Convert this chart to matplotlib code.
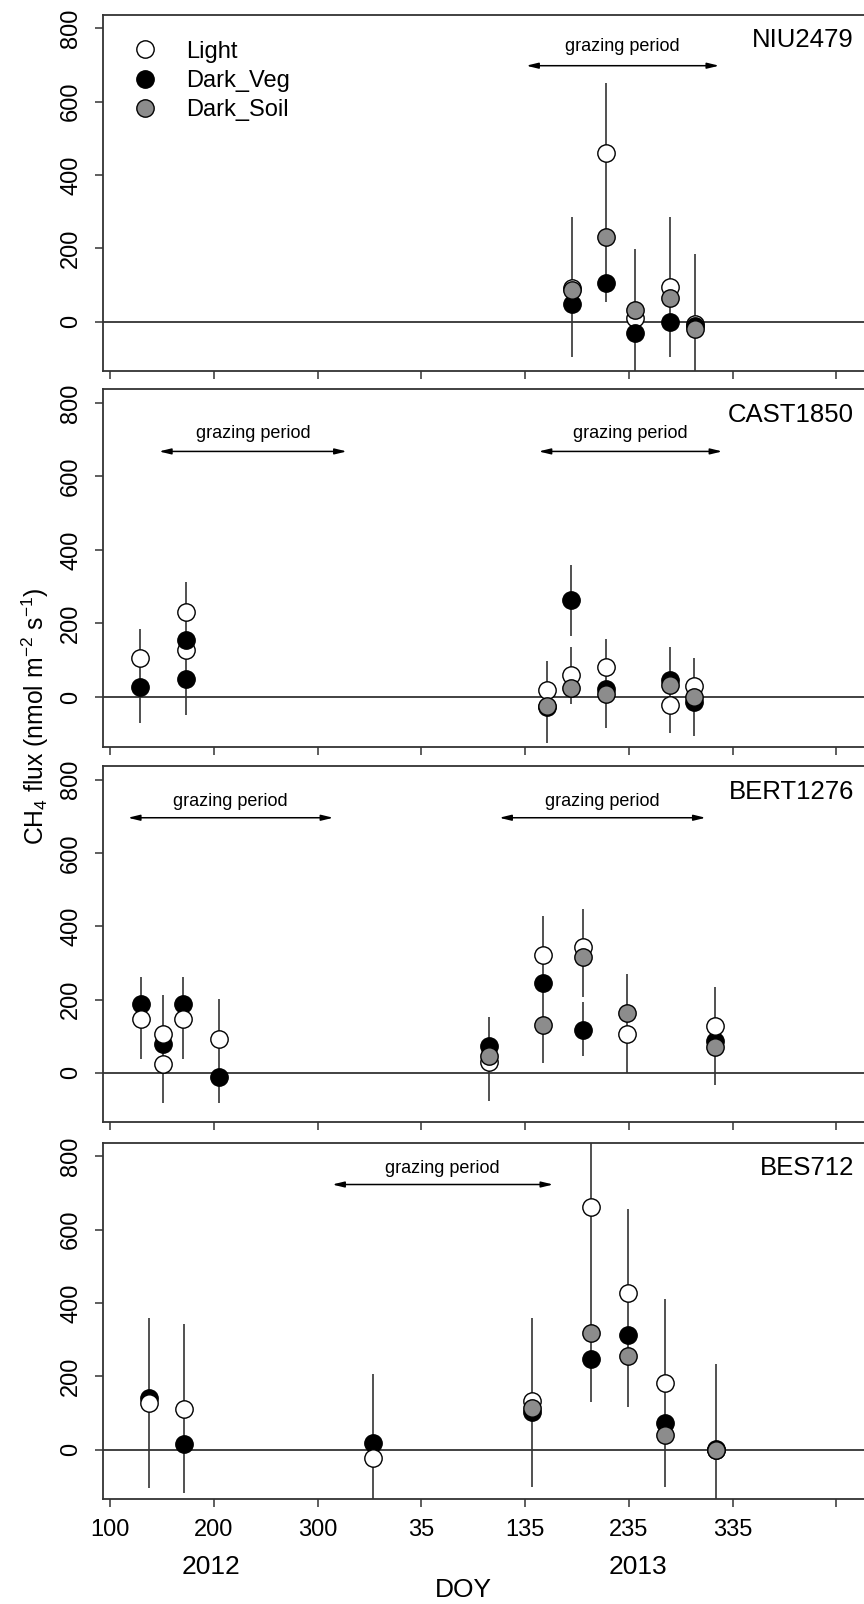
import numpy as np
import matplotlib
matplotlib.use('Agg')
import matplotlib.pyplot as plt
from matplotlib.transforms import blended_transform_factory

plt.rcParams['font.family'] = ['Liberation Sans', 'DejaVu Sans']
plt.rcParams['mathtext.default'] = 'regular'

nan = np.nan

# continuous day axis: 2012 DOY as is, 2013 DOY + 365
def day(doy, year):
    return np.asarray(doy, dtype=float) + 365 * (np.asarray(year) - 2012)

sites = ['NIU2479', 'CAST1850', 'BERT1276', 'BES712']

# ---- NIU2479 ----
niu_doy = [180, 213, 241, 275, 299]
niu_year = [2013, 2013, 2013, 2013, 2013]
niu_light = [91, 461, 9, 93, -7]
niu_veg = [47, 106, -30, 0, -12]
niu_soil = [86, 230, 32, 64, -20]
niu_bar_doy = [180, 213, 241, 275, 299]
niu_bar_year = [2013, 2013, 2013, 2013, 2013]
niu_bar_lo = [-98, 53, -180, -98, -180]
niu_bar_hi = [285, 652, 198, 285, 184]

# ---- CAST1850 ----
cast_doy = [129, 173, 173, 156, 179, 213, 275, 298]
cast_year = [2012, 2012, 2012, 2013, 2013, 2013, 2013, 2013]
cast_light = [106, 232, 127, 20, 61, 82, -23, 29]
cast_veg = [27, 155, 50, -28, 264, 23, 46, -14]
cast_soil = [nan, nan, nan, -25, 25, 7, 32, 0]
cast_bar_doy = [129, 173, 156, 179, 179, 213, 275, 298]
cast_bar_year = [2012, 2012, 2013, 2013, 2013, 2013, 2013, 2013]
cast_bar_lo = [-70, -48, -125, 166, -20, -85, -98, -106]
cast_bar_hi = [185, 312, 97, 360, 136, 157, 136, 106]

# ---- BERT1276 ----
bert_doy = [130, 151, 151, 170, 205, 100, 152, 191, 233, 318]
bert_year = [2012, 2012, 2012, 2012, 2012, 2013, 2013, 2013, 2013, 2013]
bert_light = [148, 105, 23, 148, 92, 30, 321, 344, 105, 127]
bert_veg = [189, 78, nan, 189, -11, 74, 244, 118, nan, 86]
bert_soil = [nan, nan, nan, nan, nan, 46, 130, 315, 164, 71]
bert_bar_doy = [130, 151, 170, 205, 100, 152, 191, 191, 233, 318]
bert_bar_year = [2012, 2012, 2012, 2012, 2013, 2013, 2013, 2013, 2013, 2013]
bert_bar_lo = [39, -83, 39, -83, -77, 26, 207, 46, 0, -32]
bert_bar_hi = [262, 212, 262, 201, 153, 428, 446, 192, 269, 233]

# ---- BES712 ----
bes_doy = [137, 171, 353, 142, 198, 234, 270, 319]
bes_year = [2012, 2012, 2012, 2013, 2013, 2013, 2013, 2013]
bes_light = [127, 112, -22, 134, 662, 427, 183, -2]
bes_veg = [142, 16, 18, 103, 246, 312, 73, 2]
bes_soil = [nan, nan, nan, 113, 318, 255, 39, -2]
bes_bar_doy = [137, 171, 353, 142, 198, 234, 270, 319]
bes_bar_year = [2012, 2012, 2012, 2013, 2013, 2013, 2013, 2013]
bes_bar_lo = [-104, -118, -180, -102, 130, 116, -102, -180]
bes_bar_hi = [359, 344, 207, 359, 900, 657, 412, 233]

# grazing periods (start/end as continuous day), arrow height, label height
graze_niu = [(day(136, 2013), day(322, 2013))]
graze_cast = [(day(147, 2012), day(328, 2012)), (day(148, 2013), day(325, 2013))]
graze_bert = [(day(117, 2012), day(315, 2012)), (day(110, 2013), day(309, 2013))]
graze_bes = [(day(314, 2012), day(162, 2013))]
graze_arrow_y = [698, 668, 696, 723]
graze_text_y = [750, 718, 741, 766]

xtick_pos = [100, 200, 300, 400, 500, 600, 700, 800]
xtick_lab = ['100', '200', '300', '35', '135', '235', '335', '']
ytick_pos = [0, 200, 400, 600, 800]

series_names = ['Light', 'Dark_Veg', 'Dark_Soil']
series_colors = {'Light': 'white', 'Dark_Veg': 'black', 'Dark_Soil': '#8c8c8c'}

panels = [
    (niu_doy, niu_year, niu_light, niu_veg, niu_soil,
     niu_bar_doy, niu_bar_year, niu_bar_lo, niu_bar_hi, graze_niu,
     ['Light', 'Dark_Veg', 'Dark_Soil']),
    (cast_doy, cast_year, cast_light, cast_veg, cast_soil,
     cast_bar_doy, cast_bar_year, cast_bar_lo, cast_bar_hi, graze_cast,
     ['Light', 'Dark_Veg', 'Dark_Soil']),
    (bert_doy, bert_year, bert_light, bert_veg, bert_soil,
     bert_bar_doy, bert_bar_year, bert_bar_lo, bert_bar_hi, graze_bert,
     ['Dark_Veg', 'Light', 'Dark_Soil']),
    (bes_doy, bes_year, bes_light, bes_veg, bes_soil,
     bes_bar_doy, bes_bar_year, bes_bar_lo, bes_bar_hi, graze_bes,
     ['Dark_Veg', 'Light', 'Dark_Soil']),
]

fig = plt.figure(figsize=(8.64, 16.04), dpi=100)
bottoms = [0.7687, 0.5345, 0.3003, 0.0653]
heights = [0.2221, 0.2228, 0.2221, 0.2223]
left, width = 0.1192, 0.9008

axes = []
for i, (doy, year, light, veg, soil, bdoy, byear, blo, bhi, graze, order) in enumerate(panels):
    ax = fig.add_axes([left, bottoms[i], width, heights[i]])
    axes.append(ax)
    x = day(doy, year)
    vals = {'Light': light, 'Dark_Veg': veg, 'Dark_Soil': soil}

    ax.axhline(0, color='#333333', lw=1.3, zorder=1)
    ax.vlines(day(bdoy, byear), blo, bhi, color='#333333', lw=1.2, zorder=2)
    for k, name in enumerate(order):
        ax.plot(x, vals[name], 'o', ls='none', ms=12.5, mfc=series_colors[name],
                mec='black', mew=1.0, zorder=3 + k, label=name)

    for (s, e) in graze:
        ax.annotate('', xy=(e, graze_arrow_y[i]), xytext=(s, graze_arrow_y[i]),
                    arrowprops=dict(arrowstyle='<|-|>,head_length=0.7,head_width=0.17',
                                    color='black', lw=1.1, shrinkA=0, shrinkB=0))
        ax.text((s + e) / 2, graze_text_y[i], 'grazing period', ha='center',
                va='center', fontsize=13)

    ax.text(817, 767, sites[i], ha='right', va='center', fontsize=18.5)

    ax.set_xlim(93, 843.3)
    ax.set_ylim(-135, 837)
    ax.set_xticks(xtick_pos)
    ax.set_yticks(ytick_pos)
    ax.set_yticklabels([str(v) for v in ytick_pos], rotation=90, va='center')
    ax.tick_params(axis='y', length=6, width=1.1, pad=9, labelsize=17, color='#333333')
    ax.tick_params(axis='x', length=6, width=1.1, pad=8, labelsize=17, color='#333333')
    if i < 3:
        ax.tick_params(axis='x', labelbottom=False)
    else:
        ax.set_xticklabels(xtick_lab)
    for sp in ['left', 'top', 'bottom']:
        ax.spines[sp].set_color('#333333')
        ax.spines[sp].set_linewidth(1.3)
    ax.spines['right'].set_visible(False)

# legend in the top panel
h, l = axes[0].get_legend_handles_labels()
hl = dict(zip(l, h))
axes[0].legend([hl[n] for n in series_names], series_names, loc='upper left',
               bbox_to_anchor=(0.039, 0.927), frameon=False, fontsize=17,
               handlelength=1.0, handletextpad=1.25, labelspacing=0.3,
               borderpad=0, borderaxespad=0)

trans = blended_transform_factory(axes[3].transData, fig.transFigure)
axes[3].text(197, 0.0233, '2012', transform=trans, ha='center', va='center', fontsize=19)
axes[3].text(609, 0.0233, '2013', transform=trans, ha='center', va='center', fontsize=19)
axes[3].text(440, 0.0087, 'DOY', transform=trans, ha='center', va='center', fontsize=19)

fig.text(0.0405, 0.5536, 'CH$_4$ flux (nmol m$^{-2}$ s$^{-1}$)', rotation=90,
         ha='center', va='center', fontsize=17.8)

fig.savefig('out.png', dpi=100)
